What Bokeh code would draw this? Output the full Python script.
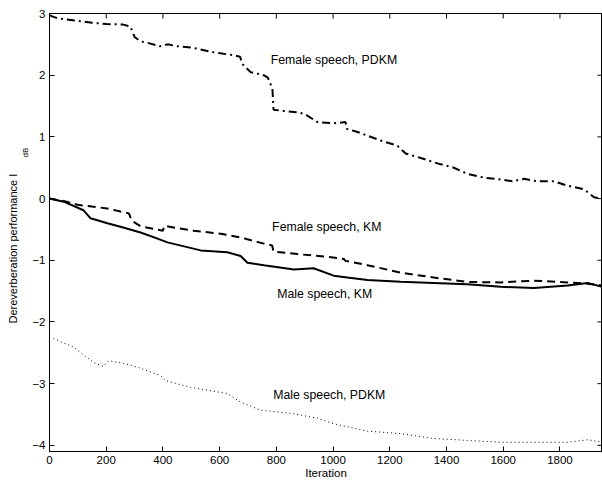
import math
from bokeh.plotting import figure
from bokeh.models import FixedTicker, Label, Title
from bokeh.embed import file_html
from bokeh.resources import INLINE

# ---- data ----
x_ticks = [0, 200, 400, 600, 800, 1000, 1200, 1400, 1600, 1800]
y_ticks = [-4, -3, -2, -1, 0, 1, 2, 3]
y_tick_labels = {-4: "\u22124", -3: "\u22123", -2: "\u22122", -1: "\u22121",
                 0: "0", 1: "1", 2: "2", 3: "3"}
x_lim = (0, 1950)
y_lim = (-4.1, 3)

fem_pdkm_x = [0, 30, 100, 150, 200, 260, 285, 300, 320, 350, 390, 416, 450, 500,
              580, 640, 672, 680, 709, 755, 770, 786, 790, 826, 874, 900, 945,
              1002, 1044, 1048, 1086, 1168, 1226, 1256, 1315, 1368, 1426, 1474,
              1532, 1591, 1632, 1673, 1720, 1779, 1826, 1885, 1920, 1950]
fem_pdkm_y = [2.97, 2.92, 2.88, 2.85, 2.83, 2.82, 2.79, 2.62, 2.55, 2.52, 2.47, 2.50,
              2.47, 2.45, 2.37, 2.33, 2.30, 2.18, 2.05, 2.00, 1.96, 1.78, 1.44,
              1.42, 1.40, 1.37, 1.24, 1.22, 1.24, 1.13, 1.08, 0.94, 0.86, 0.73,
              0.65, 0.57, 0.50, 0.40, 0.34, 0.31, 0.28, 0.32, 0.28, 0.28, 0.21,
              0.15, 0.02, 0.0]

fem_km_x = [0, 50, 98, 150, 204, 250, 280, 290, 321, 400, 405, 450, 508, 603,
            674, 698, 756, 785, 790, 874, 992, 1038, 1044, 1121, 1238, 1355,
            1473, 1591, 1708, 1827, 1898, 1950]
fem_km_y = [0.0, -0.04, -0.10, -0.13, -0.16, -0.21, -0.24, -0.36, -0.45, -0.52,
            -0.44, -0.48, -0.52, -0.57, -0.63, -0.66, -0.73, -0.76, -0.86, -0.90,
            -0.95, -0.98, -1.01, -1.08, -1.20, -1.28, -1.35, -1.36, -1.33, -1.36,
            -1.38, -1.41]

male_km_x = [0, 50, 120, 145, 204, 260, 321, 381, 416, 533, 627, 674, 698,
             756, 862, 931, 1002, 1050, 1121, 1238, 1355, 1473, 1591, 1708,
             1827, 1898, 1950]
male_km_y = [0.0, -0.05, -0.19, -0.32, -0.40, -0.47, -0.55, -0.65, -0.71, -0.84,
             -0.87, -0.93, -1.04, -1.08, -1.15, -1.13, -1.25, -1.28, -1.32, -1.35,
             -1.37, -1.39, -1.43, -1.45, -1.41, -1.37, -1.43]

male_pdkm_x = [14, 85, 156, 190, 208, 261, 321, 392, 409, 497, 627, 674, 744,
               850, 945, 1002, 1121, 1238, 1355, 1473, 1591, 1708, 1827, 1898, 1950]
male_pdkm_y = [-2.27, -2.41, -2.66, -2.72, -2.63, -2.67, -2.75, -2.87, -2.95,
               -3.06, -3.16, -3.30, -3.43, -3.48, -3.56, -3.65, -3.77, -3.81,
               -3.89, -3.92, -3.95, -3.95, -3.95, -3.91, -3.95]

annotations = ["Female speech, PDKM", "Female speech, KM",
               "Male speech, KM", "Male speech, PDKM"]
ann_x = [780, 785, 803, 789]
ann_y = [2.24, -0.46, -1.55, -3.19]

FONT = "Liberation Sans"

p = figure(width=602, height=482, x_range=x_lim, y_range=y_lim,
           output_backend="svg", toolbar_location=None,
           min_border_left=49, min_border_right=0, min_border_top=13,
           min_border_bottom=31)
p.grid.visible = False
p.outline_line_color = "black"
p.outline_line_width = 1
p.background_fill_color = "white"
p.border_fill_color = "white"


def style_axis(ax, ticks):
    ax.ticker = FixedTicker(ticks=ticks)
    ax.major_tick_in = 5
    ax.major_tick_out = 0
    ax.minor_tick_line_color = None
    ax.axis_line_color = "black"
    ax.major_tick_line_color = "black"
    ax.major_label_text_font = FONT
    ax.major_label_text_font_size = "11.5px"
    ax.major_label_text_color = "black"
    ax.major_label_standoff = 4


xa = p.xaxis[0]
style_axis(xa, x_ticks)
xa.axis_label = "Iteration"
xa.axis_label_text_font = FONT
xa.axis_label_text_font_size = "11.5px"
xa.axis_label_text_font_style = "normal"
xa.axis_label_text_color = "black"
xa.axis_label_standoff = 0

ya = p.yaxis[0]
style_axis(ya, y_ticks)
ya.major_label_overrides = y_tick_labels

# ---- inward ticks on the top and right edges of the box ----
p.ray(x=x_ticks, y=[y_lim[1]] * len(x_ticks), length=5, length_units="screen",
      angle=-math.pi / 2, line_color="black", line_width=1)
p.ray(x=[x_lim[1]] * len(y_ticks), y=y_ticks, length=5, length_units="screen",
      angle=math.pi, line_color="black", line_width=1)

# ---- y axis title (with subscript) as side titles ----
p.add_layout(Title(text="dB", text_font=FONT, text_font_size="8px",
                   text_font_style="normal", text_color="black",
                   align="left", offset=294, standoff=0), "left")
p.add_layout(Title(text="Dereverberation performance  I", text_font=FONT,
                   text_font_size="11px", text_font_style="normal",
                   text_color="black", align="left", offset=128, standoff=0),
             "left")

# ---- lines ----
p.line(fem_pdkm_x, fem_pdkm_y, line_color="black", line_width=2,
       line_dash="8 4 2 4")
p.line(fem_km_x, fem_km_y, line_color="black", line_width=2, line_dash="8 5")
p.line(male_km_x, male_km_y, line_color="black", line_width=2)
p.line(male_pdkm_x, male_pdkm_y, line_color="black", line_width=1,
       line_dash="1 3")

for t, ax_, ay_ in zip(annotations, ann_x, ann_y):
    p.add_layout(Label(x=ax_, y=ay_, text=t, text_font=FONT,
                       text_font_size="12.3px", text_color="black",
                       text_align="left", text_baseline="middle"))

open("out.html", "w").write(file_html(p, INLINE))
